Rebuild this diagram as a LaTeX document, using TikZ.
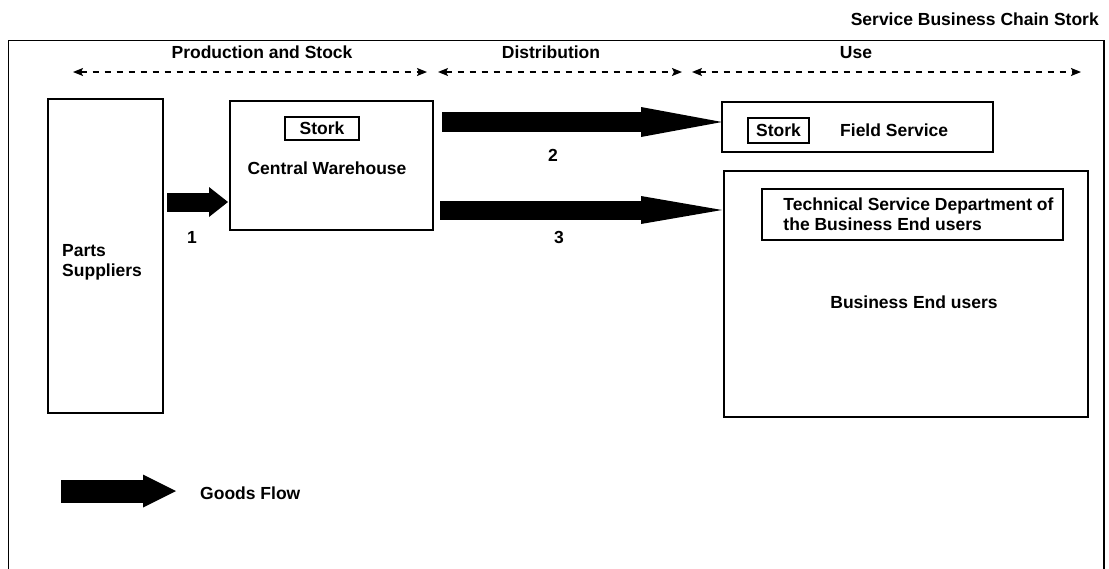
\documentclass[tikz,border=0pt]{standalone}
\usepackage{fontspec}
\setmainfont{Liberation Sans}
\usetikzlibrary{arrows.meta,calc}
\begin{document}
\begin{tikzpicture}[x=1pt,y=-1pt,
  txt/.style={font=\fontsize{17.5pt}{20pt}\selectfont\bfseries, inner sep=0pt},
  boxed/.style={draw, line width=1.6pt, inner sep=0pt, outer sep=0pt},
  innerbox/.style={boxed, txt},
  spanarrow/.style={line width=1.3pt, dash pattern=on 6pt off 6pt,
    {Stealth[length=10pt,width=8pt,inset=2pt]}-{Stealth[length=10pt,width=8pt,inset=2pt]}},
  flowarrow/.style n args={3}{line width=#1,
    -{Triangle[length=#2, width=#3, line width=0pt]}}
]
\useasboundingbox (0,0) rectangle (1109,568);
\clip (0,0) rectangle (1109,568);

% heading and open frame
\node[txt, anchor=east] (title) at (1099,19) {Service Business Chain Stork};
\draw[line width=1.8pt] (8.5,580) -- (8.5,40.5) -- (1104,40.5) -- (1104,580);

% phases of the chain
\node[txt, anchor=base] (hprod) at (262,58) {Production and Stock};
\node[txt, anchor=base] (hdist) at (551,58) {Distribution};
\node[txt, anchor=base] (huse)  at (856,58) {Use};
\coordinate (p1) at (73,72);  \coordinate (p2) at (427,72);
\coordinate (d1) at (438,72); \coordinate (d2) at (682,72);
\coordinate (u1) at (692,72); \coordinate (u2) at (1081,72);
\draw[spanarrow] (p1) -- (p2);
\draw[spanarrow] (d1) -- (d2);
\draw[spanarrow] (u1) -- (u2);

% parts suppliers
\node[boxed, minimum width=115pt, minimum height=314pt] (parts) at (105.5,256) {};
\node[txt, anchor=west, align=left] (partslbl) at ($(parts.west)+(14,6)$) {Parts\\Suppliers};

% central warehouse
\node[boxed, minimum width=203pt, minimum height=129pt] (wh) at (331.5,165.5) {};
\node[innerbox, minimum width=74pt, minimum height=23pt] (whstork) at (322,128.5) {Stork};
\node[txt] (whlbl) at (327,168) {Central Warehouse};

% field service
\node[boxed, minimum width=271pt, minimum height=50pt] (fs) at (857.5,127) {};
\node[innerbox, minimum width=61pt, minimum height=25pt] (fsstork) at (778.5,130.5) {Stork};
\node[txt, anchor=west] (fslbl) at (840,130) {Field Service};

% business end users
\node[boxed, minimum width=364pt, minimum height=246pt] (beu) at (906,294) {};
\node[innerbox, minimum width=301pt, minimum height=51pt, align=left] (tech) at (912.5,214.5)
  {\hspace*{12pt}Technical Service Department of\\\hspace*{12pt}the Business End users};
\node[txt] (beulbl) at (914,302) {Business End users};

% goods flows
\coordinate (a1) at (0,202);
\coordinate (a2) at (0,122);
\coordinate (a3) at (0,210);
\draw[flowarrow={19pt}{19pt}{30pt}] ($(parts.east|-a1)+(4,0)$) -- ($(wh.west|-a1)+(-2,0)$);
\draw[flowarrow={20pt}{81pt}{30pt}] ($(wh.east|-a2)+(9,0)$) -- (fs.west|-a2);
\draw[flowarrow={19pt}{81pt}{28pt}] ($(wh.east|-a3)+(7,0)$) -- ($(beu.west|-a3)+(-2,0)$);
\node[txt] (n1) at (192,237) {1};
\node[txt] (n2) at (553,155) {2};
\node[txt] (n3) at (559,237) {3};

% legend
\coordinate (g1) at (61,491);
\coordinate (g2) at (176,491);
\draw[flowarrow={23pt}{33pt}{33pt}] (g1) -- (g2);
\node[txt, anchor=west] (goods) at (200,493) {Goods Flow};
\end{tikzpicture}
\end{document}
